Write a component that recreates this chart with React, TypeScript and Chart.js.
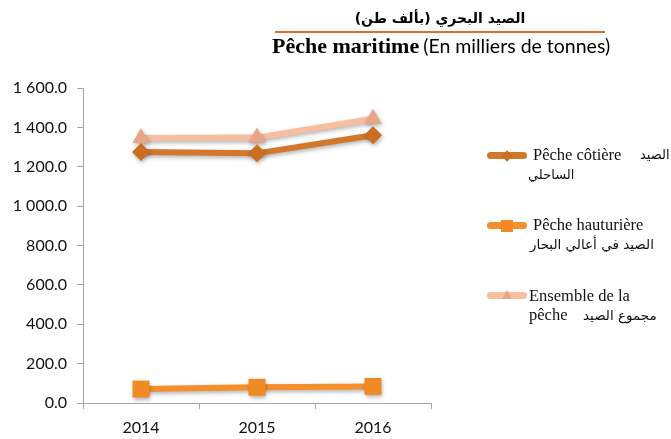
import React, { useEffect, useRef } from "react";
import { Chart, registerables } from "chart.js";

Chart.register(...registerables);

const categories = ["2014", "2015", "2016"];
const coastal = [1275, 1268, 1360];
const offshore = [71, 80, 84];
const total = [1346, 1348, 1444];

const seriesNamesFr = ["Pêche côtière", "Pêche hauturière", "Ensemble de la pêche"];
const seriesNamesAr = ["الصيد الساحلي", "الصيد في أعالي البحار", "مجموع الصيد"];

const titleAr = "الصيد البحري (بألف طن)";
const titleFrBold = "Pêche maritime";
const titleFrRest = "(En milliers de tonnes)";

const C_COAST = "#D2782A";
const C_COAST_PT = "#C96E22";
const C_OFF = "#F58F2C";
const C_OFF_PT = "#F08A24";
const C_TOT = "#F7BE9F";
const C_TOT_PT = "#E9A585";

const fmt = (v: number) => {
  const s = v.toFixed(1);
  const [i, d] = s.split(".");
  return i.replace(/\B(?=(\d{3})+(?!\d))/g, " ") + "." + d;
};

const shadowPlugin = {
  id: "shadowPlugin",
  beforeDatasetsDraw(chart: any) {
    const ctx = chart.ctx;
    ctx.save();
    ctx.shadowColor = "rgba(0,0,0,0.3)";
    ctx.shadowBlur = 4;
    ctx.shadowOffsetX = 1;
    ctx.shadowOffsetY = 2;
  },
  afterDatasetsDraw(chart: any) {
    chart.ctx.restore();
  },
};

const tickFont = { family: "Lato, 'Open Sans', sans-serif", size: 16 };

export default function App() {
  const ref = useRef<HTMLCanvasElement>(null);
  useEffect(() => {
    const chart = new Chart(ref.current!, {
      type: "line",
      data: {
        labels: categories,
        datasets: [
          {
            label: seriesNamesFr[0],
            data: coastal,
            borderColor: C_COAST,
            pointBackgroundColor: C_COAST_PT,
            pointBorderWidth: 0,
            borderWidth: 6,
            pointStyle: "rectRot",
            pointRadius: 9,
            tension: 0,
          },
          {
            label: seriesNamesFr[1],
            data: offshore,
            borderColor: C_OFF,
            pointBackgroundColor: C_OFF_PT,
            pointBorderWidth: 0,
            borderWidth: 6,
            pointStyle: "rect",
            pointRadius: 12,
            tension: 0,
          },
          {
            label: seriesNamesFr[2],
            data: total,
            borderColor: C_TOT,
            pointBackgroundColor: C_TOT_PT,
            pointBorderWidth: 0,
            borderWidth: 6,
            pointStyle: "triangle",
            pointRadius: 10,
            tension: 0,
          },
        ],
      },
      options: {
        animation: false,
        responsive: false,
        layout: { padding: { left: 0, right: 240, top: 88, bottom: 0 } },
        plugins: { legend: { display: false }, tooltip: { enabled: false } },
        scales: {
          x: {
            offset: true,
            grid: { drawOnChartArea: false, tickLength: 6, color: "#A6A6A6", offset: true },
            border: { color: "#A6A6A6", width: 1 },
            ticks: { color: "#111", font: tickFont, padding: 9 },
            afterFit(scale: any) {
              scale.height = 36;
            },
          },
          y: {
            min: 0,
            max: 1600,
            ticks: {
              stepSize: 200,
              color: "#111",
              font: tickFont,
              padding: 10,
              callback: (v: any) => fmt(Number(v)),
            },
            grid: { drawOnChartArea: false, tickLength: 6, color: "#A6A6A6" },
            border: { color: "#A6A6A6", width: 1 },
            afterFit(scale: any) {
              scale.width = 83;
            },
          },
        },
      },
      plugins: [shadowPlugin],
    });
    return () => chart.destroy();
  }, []);

  const serif = "'Liberation Serif', 'Times New Roman', serif";
  const arFont = "'DejaVu Sans', sans-serif";
  const legendLine = (color: string, marker: React.ReactNode) => (
    <div style={{ position: "relative", width: 40, height: 7, background: color, borderRadius: 3.5 }}>
      <div style={{ position: "absolute", left: 20, top: 3.5 }}>{marker}</div>
    </div>
  );

  const diamond = (
    <div style={{ position: "absolute", left: -4, top: -4, width: 8, height: 8, background: C_COAST_PT, transform: "rotate(45deg)" }} />
  );
  const square = <div style={{ position: "absolute", left: -6, top: -6, width: 12, height: 12, background: C_OFF_PT }} />;
  const triangle = (
    <div
      style={{
        position: "absolute",
        left: -5,
        top: -6,
        width: 0,
        height: 0,
        borderLeft: "5px solid transparent",
        borderRight: "5px solid transparent",
        borderBottom: `9px solid ${C_TOT_PT}`,
      }}
    />
  );

  const txt = (x: number, y: number, s: string, extra: React.CSSProperties = {}) => (
    <div style={{ position: "absolute", left: x, top: y, fontFamily: serif, fontSize: 16.5, color: "#111", whiteSpace: "nowrap", lineHeight: "18px", ...extra }}>
      {s}
    </div>
  );

  const arCoast = seriesNamesAr[0].split(" ");
  const frTot = seriesNamesFr[2].split(" ");

  return (
    <div style={{ position: "absolute", left: 0, top: 0, width: 671, height: 439, background: "#fff" }}>
      <canvas ref={ref} width={671} height={439} style={{ position: "absolute", left: 0, top: 0 }} />
      <div
        style={{
          position: "absolute",
          left: 275,
          width: 330,
          top: 8,
          textAlign: "center",
          fontFamily: arFont,
          fontWeight: "bold",
          fontSize: 14,
          direction: "rtl",
          color: "#000",
          lineHeight: "20px",
        }}
      >
        {titleAr}
      </div>
      <div style={{ position: "absolute", left: 275, top: 31, width: 330, height: 2, background: "#E46C27" }} />
      <div style={{ position: "absolute", left: 272, top: 33, whiteSpace: "nowrap", color: "#000", lineHeight: "26px" }}>
        <span style={{ fontFamily: serif, fontWeight: "bold", fontSize: 22 }}>{titleFrBold}</span>{" "}
        <span style={{ fontFamily: "Lato, 'Open Sans', sans-serif", fontSize: 19.5 }}>{titleFrRest}</span>
      </div>

      <div style={{ position: "absolute", left: 487, top: 152 }}>{legendLine(C_COAST, diamond)}</div>
      {txt(533, 146, seriesNamesFr[0])}
      {txt(640, 146, arCoast[0], { fontFamily: arFont, fontSize: 13 })}
      {txt(528, 166, arCoast.slice(1).join(" "), { fontFamily: arFont, fontSize: 13 })}

      <div style={{ position: "absolute", left: 487, top: 222 }}>{legendLine(C_OFF, square)}</div>
      {txt(533, 216, seriesNamesFr[1])}
      {txt(530, 235, seriesNamesAr[1], { fontFamily: arFont, fontSize: 13.5, direction: "rtl" })}

      <div style={{ position: "absolute", left: 487, top: 292 }}>{legendLine(C_TOT, triangle)}</div>
      {txt(529, 287, frTot.slice(0, 3).join(" "))}
      {txt(529, 306, frTot.slice(3).join(" "))}
      {txt(583, 306, seriesNamesAr[2], { fontFamily: arFont, fontSize: 13.5, direction: "rtl" })}
    </div>
  );
}
